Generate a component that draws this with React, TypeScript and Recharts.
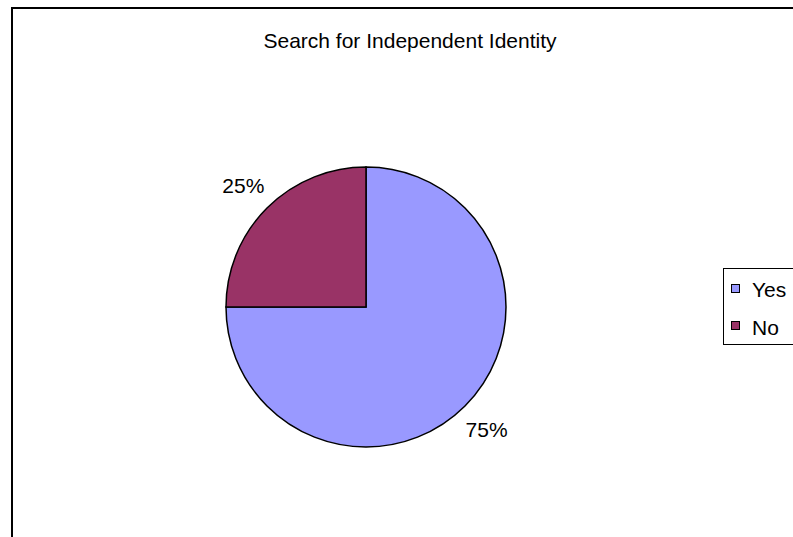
import React from "react";
import { PieChart, Pie, Cell, Legend } from "recharts";

const categories = ["Yes", "No"];
const values = [75, 25];
const colors = ["#9999FF", "#993366"];
const title = "Search for Independent Identity";

const data = categories.map((name, i) => ({ name, value: values[i] }));

const FONT = "Liberation Sans, Arial, sans-serif";
const RAD = Math.PI / 180;

const renderLabel = (props: any) => {
  const { cx, cy, midAngle, percent } = props;
  const r = 172;
  const x = cx + r * Math.cos(-midAngle * RAD);
  const y = cy + r * Math.sin(-midAngle * RAD);
  return (
    <text
      x={x - 1}
      y={y + 8}
      textAnchor="middle"
      fontSize={21}
      fontFamily={FONT}
      fill="#000"
    >
      {`${Math.round(percent * 100)}%`}
    </text>
  );
};

const LegendContent = () => (
  <svg width={90} height={80} style={{ display: "block" }}>
    <rect x={0.5} y={0.5} width={100} height={76} fill="#fff" stroke="#000" strokeWidth={1} />
    {data.map((d, i) => (
      <g key={d.name}>
        <rect
          x={8.5}
          y={16.5 + i * 37}
          width={8}
          height={8}
          fill={colors[i]}
          stroke="#000"
          strokeWidth={1}
        />
        <text x={29} y={29 + i * 38} fontSize={21} fontFamily={FONT} fill="#000">
          {d.name}
        </text>
      </g>
    ))}
  </svg>
);

export default function App() {
  return (
    <div
      style={{
        position: "absolute",
        left: 11,
        top: 7,
        width: 820,
        height: 560,
        border: "2px solid #000",
        background: "#fff",
        boxSizing: "border-box",
      }}
    >
      <div style={{ position: "absolute", left: 0, top: 0 }}>
        <PieChart width={816} height={556} margin={{ top: 0, right: 0, bottom: 0, left: 0 }}>
          <text
            x={397}
            y={39}
            textAnchor="middle"
            fontSize={21}
            fontFamily={FONT}
            fill="#000"
          >
            {title}
          </text>
          <Pie
            data={data}
            dataKey="value"
            nameKey="name"
            cx={353}
            cy={298}
            outerRadius={140}
            startAngle={90}
            endAngle={-270}
            stroke="#000"
            strokeWidth={1.5}
            label={renderLabel}
            labelLine={false}
            isAnimationActive={false}
          >
            {data.map((d, i) => (
              <Cell key={d.name} fill={colors[i]} />
            ))}
          </Pie>
          <Legend
            content={() => <LegendContent />}
            wrapperStyle={{ position: "absolute", left: 710, top: 259, width: 90, height: 80 }}
          />
        </PieChart>
      </div>
    </div>
  );
}
